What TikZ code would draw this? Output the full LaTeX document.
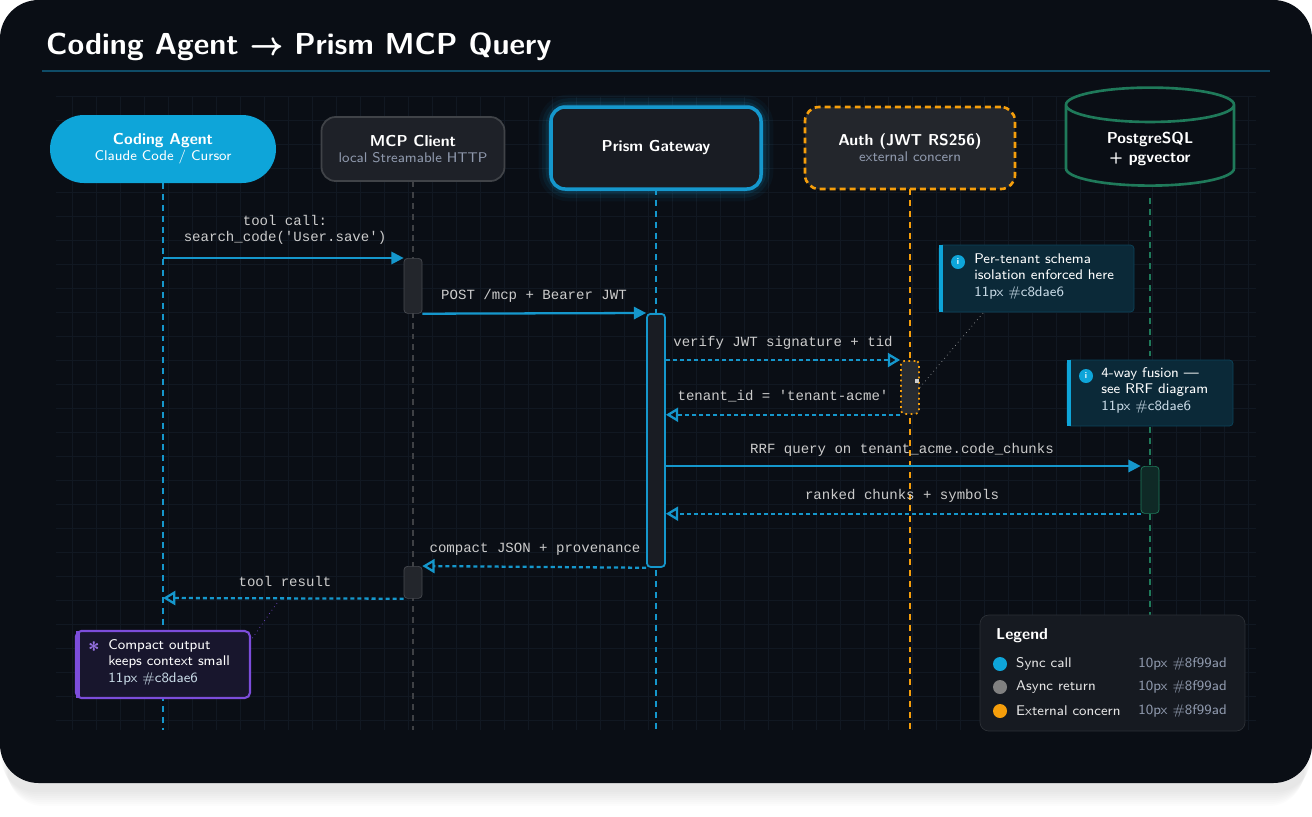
\documentclass[tikz,border=0pt]{standalone}
\usepackage{fontspec}
\setmainfont{Noto Sans}
\setmonofont{Liberation Mono}
\usepackage{xcolor}
\usetikzlibrary{arrows.meta}
\usetikzlibrary{shapes.geometric}

\definecolor{card}{HTML}{0A0E15}
\definecolor{gridc}{HTML}{111822}
\definecolor{sky}{HTML}{0EA5D9}
\definecolor{skyline}{HTML}{1597CC}
\definecolor{amber}{HTML}{F59E0B}
\definecolor{pg}{HTML}{1F7A5A}
\definecolor{muted}{HTML}{8F99AD}
\definecolor{notec}{HTML}{C8DAE6}
\definecolor{violet}{HTML}{7C4DDB}

\newcommand\px{*0.02cm}
\tikzset{
  actor/.style={rounded corners=8pt, minimum width=183\px, minimum height=64\px, align=center, text=white, font=\sffamily\small},
  bar/.style={rounded corners=2pt, minimum width=18\px, anchor=north},
  life/.style={dash pattern=on 3.4pt off 2.8pt, line width=1.3pt},
  sync/.style={draw=skyline, line width=1.3pt, -{Triangle[length=7pt,width=7pt]}},
  async/.style={draw=skyline, line width=1.3pt, dash pattern=on 2.3pt off 1.7pt, -{Triangle[open,length=7pt,width=8pt]}},
  msg/.style={font=\ttfamily\footnotesize, text=white!80!black},
  note/.style={align=left, anchor=north west, font=\sffamily\footnotesize, text=notec, inner sep=0pt},
}

\begin{document}
\begin{tikzpicture}[x=0.02cm, y=-0.02cm]
  \useasboundingbox (0,0) rectangle (1312,816);
  \fill[white] (0,0) rectangle (1312,816);
  \foreach \i in {1,...,8}
    \fill[black, opacity=0.012, rounded corners=20pt] (0+\i,8+\i) rectangle (1312-\i,790+2*\i);
  \fill[card, rounded corners=22pt] (0,0) rectangle (1312,783);
  % grid
  \draw[gridc, line width=0.3pt, step=24\px] (56,96) grid (1256,730);

  % title
  \node (title) [anchor=west, text=white, font=\sffamily\bfseries\LARGE] at (40,47) {Coding Agent → Prism MCP Query};
  \draw[skyline!45!card, line width=1pt] (42,71) coordinate (rule0) -- (1270,71) coordinate (rule1);

  % lifelines
  \draw[life, skyline] (163,183) -- (163,730);
  \draw[life, gray!45!card] (413,181) -- (413,730);
  \draw[life, skyline] (656,189) -- (656,730);
  \draw[life, amber] (910,189) -- (910,730);
  \draw[life, pg] (1150,198) -- (1150,615);

  % actors
  \node (agent) [actor, fill=sky, rounded corners=34\px, minimum width=226\px, minimum height=68\px] at (163,149)
    {\textbf{Coding Agent}\\[-2pt]{\footnotesize Claude Code / Cursor}};
  \node (client) [actor, fill=white!8!card, draw=white!22!card, line width=1pt] at (413,149)
    {\textbf{MCP Client}\\[-2pt]{\footnotesize\color{muted} local Streamable HTTP}};
  \foreach \wd/\op in {14/0.05,10/0.08,6/0.12,3/0.2}
    \draw[skyline, line width=\wd pt, opacity=\op, rounded corners=10pt] (551,107) rectangle (761,189);
  \node (gw) [actor, fill=white!6!card, draw=skyline, line width=2pt, minimum width=210\px, minimum height=82\px] at (656,148)
    {\textbf{Prism Gateway}};
  \node (auth) [actor, fill=white!10!card, draw=amber, line width=1.5pt, dash pattern=on 3.4pt off 2.3pt, minimum width=210\px, minimum height=82\px] at (910,148)
    {\textbf{Auth (JWT RS256)}\\[-2pt]{\footnotesize\color{muted} external concern}};
  \node (db) [cylinder, shape border rotate=90, aspect=0.35, draw=pg, line width=1.5pt, fill=card, minimum width=168\px, minimum height=98\px, align=center, text=white, font=\sffamily\small\bfseries] at (1150,149)
    {PostgreSQL\\+ pgvector};

  % activation bars
  \node (cb1) [bar, fill=white!10!card, draw=white!25!card, minimum height=55\px] at (413,258) {};
  \node (gb) [bar, fill=white!6!card, draw=skyline, line width=1pt, minimum height=253\px] at (656,313) {};
  \node (ab) [bar, fill=white!12!card, draw=amber, dotted, line width=1pt, minimum height=53\px] at (910,360) {};
  \node (pb) [bar, fill=pg!25!card, draw=pg, minimum height=47\px] at (1150,466) {};
  \node (cb2) [bar, fill=white!10!card, draw=white!25!card, minimum height=32\px] at (413,566) {};

  % messages
  \coordinate (a1) at (163,258);
  \draw[sync] (a1) -- (cb1.north west);
  \node[msg, align=center] at (285,230) {tool call:\\search\_code('User.save')};
  \draw[sync] (cb1.south east) -- (gb.north west);
  \node[msg] at (534,296) {POST /mcp + Bearer JWT};
  \draw[async] (gb.east |- ab.north) -- (ab.north west);
  \node[msg] at (783,343) {verify JWT signature + tid};
  \draw[async] (ab.south west) -- (gb.east |- ab.south);
  \node[msg] at (783,396) {tenant\_id = 'tenant-acme'};
  \draw[sync] (gb.east |- pb.north) -- (pb.north west);
  \node[msg] at (902,450) {RRF query on tenant\_acme.code\_chunks};
  \draw[async] (pb.south west) -- (gb.east |- pb.south);
  \node[msg] at (902,496) {ranked chunks + symbols};
  \draw[async] (gb.south west) -- (cb2.north east);
  \node[msg] at (535,549) {compact JSON + provenance};
  \coordinate (a2) at (163,598);
  \draw[async] (cb2.south west) -- (a2);
  \node[msg] at (285,581) {tool result};

  % notes
  \draw[sky!35!card, fill=sky!18!card, rounded corners=2pt] (939,245) rectangle (1134,312);
  \fill[sky] (939,245) rectangle (943,312);
  \node (n1i) [circle, fill=sky, inner sep=0pt, minimum size=14\px, text=white, font=\sffamily\bfseries\tiny] at (958,262) {i};
  \node (n1) [note] at (974,253) {\color{white}Per-tenant schema\\\color{white}isolation enforced here\\11px \#c8dae6};
  \draw[white!60!card, dotted] (983,313) -- (ab.east);
  \fill[white!80!black] (915,379) rectangle (919,383);

  \draw[sky!35!card, fill=sky!18!card, rounded corners=2pt] (1067,360) rectangle (1233,426);
  \fill[sky] (1067,360) rectangle (1071,426);
  \node (n2i) [circle, fill=sky, inner sep=0pt, minimum size=14\px, text=white, font=\sffamily\bfseries\tiny] at (1086,376) {i};
  \node (n2) [note] at (1101,367) {\color{white}4-way fusion —\\\color{white}see RRF diagram\\11px \#c8dae6};

  \draw[violet, line width=1.2pt, fill=violet!12!card, rounded corners=3pt] (76,631) rectangle (250,698);
  \fill[violet] (76,631) rectangle (80,698);
  \node (n3i) [text=violet!80!white, font=\sffamily\bfseries\large] at (94,650) {*};
  \node (n3) [note] at (108,639) {\color{white}Compact output\\\color{white}keeps context small\\11px \#c8dae6};
  \draw[violet, dotted] (277,603) -- (251,640);

  % legend
  \draw[white!14!card, fill=white!5!card, rounded corners=5pt] (980,615) rectangle (1245,731);
  \node (lg) [anchor=west, text=white, font=\sffamily\bfseries\small] at (990,636) {Legend};
  \foreach \yy/\col/\txt in {664/sky/Sync call, 687/gray/Async return, 711/amber/External concern} {
    \fill[\col] (1000,\yy) circle (7\px);
    \node[anchor=west, text=white!90!black, font=\sffamily\footnotesize] at (1010,\yy) {\txt};
    \node[anchor=east, text=muted, font=\sffamily\footnotesize] at (1233,\yy) {10px \#8f99ad};
  }
\end{tikzpicture}
\end{document}
